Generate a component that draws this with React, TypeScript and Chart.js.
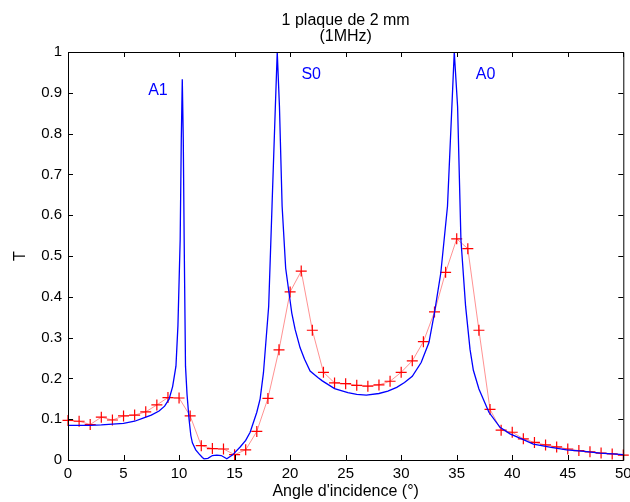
import React, { useEffect, useRef } from "react";
import { Chart, registerables } from "chart.js";

Chart.register(...registerables);

// ---- data ----
const measuredAngles = [
  0, 1, 2, 3, 4, 5, 6, 7, 8, 9, 10, 11, 12, 13, 14, 15, 16, 17, 18, 19, 20, 21, 22, 23, 24, 25,
  26, 27, 28, 29, 30, 31, 32, 33, 34, 35, 36, 37, 38, 39, 40, 41, 42, 43, 44, 45, 46, 47, 48, 49, 50,
];
const measuredT = [
  0.097, 0.095, 0.087, 0.105, 0.098, 0.108, 0.11, 0.118, 0.135, 0.153, 0.152, 0.108, 0.035, 0.028,
  0.027, 0.013, 0.025, 0.07, 0.151, 0.27, 0.412, 0.463, 0.318, 0.215, 0.189, 0.187, 0.183, 0.181,
  0.184, 0.193, 0.215, 0.243, 0.29, 0.363, 0.46, 0.542, 0.518, 0.318, 0.124, 0.073, 0.068, 0.052,
  0.043, 0.037, 0.032, 0.027, 0.023, 0.02, 0.017, 0.015, 0.012,
];

const theoryAngles = [
  0, 1, 2, 3, 4, 5, 6, 6.7, 7.5, 8.2, 8.7, 9.1, 9.42, 9.72, 9.9, 10.1, 10.2, 10.29, 10.38, 10.46,
  10.58, 10.72, 10.9, 11.06, 11.2, 11.5, 11.8, 12.1, 12.25, 12.6, 13.0, 13.4, 13.8, 14.3, 14.8, 15.5,
  16.0, 16.4, 17.0, 17.3, 17.6, 18.07, 18.37, 18.67, 18.84, 19.04, 19.28, 19.6, 19.9, 20.15, 20.45,
  20.9, 21.3, 21.8, 22.5, 22.9, 24.0, 25.2, 26.0, 26.86, 28.0, 28.8, 29.6, 30.3, 31.0, 31.8, 32.5,
  33.0, 33.57, 34.17, 34.5, 34.78, 35.08, 35.38, 35.8, 36.2, 36.5, 37.0, 37.9, 38.9, 39.8, 41.0,
  41.9, 43.5, 44.9, 46.5, 47.9, 49.0, 50.0,
];
const theoryT = [
  0.085, 0.085, 0.085, 0.086, 0.088, 0.09, 0.095, 0.102, 0.11, 0.12, 0.132, 0.149, 0.18, 0.23, 0.33,
  0.54, 0.785, 0.933, 0.785, 0.54, 0.23, 0.16, 0.1, 0.06, 0.042, 0.025, 0.015, 0.006, 0.003, 0.004,
  0.011, 0.012, 0.011, 0.003, 0.012, 0.032, 0.048, 0.068, 0.117, 0.15, 0.214, 0.377, 0.622, 0.866,
  1.0, 0.866, 0.622, 0.47, 0.41, 0.36, 0.32, 0.275, 0.247, 0.218, 0.202, 0.194, 0.175, 0.165, 0.161,
  0.159, 0.163, 0.169, 0.178, 0.19, 0.205, 0.239, 0.288, 0.361, 0.459, 0.622, 0.826, 1.0, 0.866,
  0.54, 0.377, 0.271, 0.22, 0.174, 0.117, 0.08, 0.064, 0.05, 0.039, 0.031, 0.025, 0.021, 0.017,
  0.015, 0.013,
];

const xTickValues = [0, 5, 10, 15, 20, 25, 30, 35, 40, 45, 50];
const xTickLabels = ["0", "5", "10", "15", "20", "25", "30", "35", "40", "45", "50"];
const yTickValues = [0, 0.1, 0.2, 0.3, 0.4, 0.5, 0.6, 0.7, 0.8, 0.9, 1];
const yTickLabels = ["0", "0.1", "0.2", "0.3", "0.4", "0.5", "0.6", "0.7", "0.8", "0.9", "1"];

const modeLabels = ["A1", "S0", "A0"];
const modeAngles = [8.1, 21.9, 37.6];
const modeT = [0.905, 0.945, 0.945];

const titleLines = ["1 plaque de 2 mm", "(1MHz)"];
const xTitle = "Angle d'incidence (°)";
const yTitle = "T";

const FONT = '"Liberation Sans", Arial, Helvetica, sans-serif';

const matlabPlugin = {
  id: "matlabDecor",
  afterDatasetsDraw(chart: any) {
    const { ctx, chartArea } = chart;
    const { left, right, top, bottom } = chartArea;
    const xs = chart.scales.x;
    const ys = chart.scales.y;
    const tl = 5;
    ctx.save();
    ctx.strokeStyle = "#000";
    ctx.lineWidth = 1;
    ctx.beginPath();
    ctx.rect(left + 0.5, top + 0.5, right - left, bottom - top);
    ctx.stroke();
    ctx.beginPath();
    xTickValues.forEach((v) => {
      const px = Math.round(xs.getPixelForValue(v)) + 0.5;
      ctx.moveTo(px, bottom);
      ctx.lineTo(px, bottom - tl);
      ctx.moveTo(px, top);
      ctx.lineTo(px, top + tl);
    });
    yTickValues.forEach((v) => {
      const py = Math.round(ys.getPixelForValue(v)) + 0.5;
      ctx.moveTo(left, py);
      ctx.lineTo(left + tl, py);
      ctx.moveTo(right, py);
      ctx.lineTo(right - tl, py);
    });
    ctx.stroke();
    ctx.restore();
  },
  afterDraw(chart: any) {
    const { ctx, chartArea } = chart;
    const xs = chart.scales.x;
    const ys = chart.scales.y;
    const cx = (chartArea.left + chartArea.right) / 2;
    ctx.save();
    ctx.fillStyle = "#000";
    ctx.font = `16px ${FONT}`;
    ctx.textAlign = "center";
    ctx.textBaseline = "alphabetic";
    ctx.fillText(titleLines[0], cx, 25);
    ctx.fillText(titleLines[1], cx, 41);
    ctx.fillText(xTitle, cx, 496);
    ctx.save();
    ctx.translate(21, (chartArea.top + chartArea.bottom) / 2);
    ctx.rotate(-Math.PI / 2);
    ctx.textBaseline = "middle";
    ctx.fillText(yTitle, 0, 0);
    ctx.restore();
    ctx.fillStyle = "#0000ff";
    ctx.textBaseline = "middle";
    modeLabels.forEach((lab, i) => {
      ctx.fillText(lab, xs.getPixelForValue(modeAngles[i]), ys.getPixelForValue(modeT[i]));
    });
    ctx.restore();
  },
};

export default function App() {
  const ref = useRef<HTMLCanvasElement | null>(null);
  useEffect(() => {
    if (!ref.current) return;
    const theory = theoryAngles.map((x, i) => ({ x, y: theoryT[i] }));
    const measured = measuredAngles.map((x, i) => ({ x, y: measuredT[i] }));
    const chart = new Chart(ref.current, {
      type: "line",
      data: {
        datasets: [
          {
            label: "theory",
            data: theory,
            borderColor: "#0000ff",
            borderWidth: 1.3,
            pointRadius: 0,
            tension: 0,
            fill: false,
          },
          {
            label: "measured",
            data: measured,
            borderColor: "rgba(255,100,100,0.7)",
            borderWidth: 1,
            pointStyle: "cross",
            pointRadius: 5.5,
            pointBorderColor: "#ff0000",
            pointBackgroundColor: "#ff0000",
            pointBorderWidth: 1.2,
            tension: 0,
            fill: false,
            clip: false,
          },
        ],
      },
      options: {
        animation: false,
        responsive: false,
        layout: { padding: { top: 52, right: 3, left: 0, bottom: 0 } },
        plugins: { legend: { display: false }, title: { display: false }, tooltip: { enabled: false } },
        scales: {
          x: {
            type: "linear",
            min: 0,
            max: 50,
            grid: { display: false, drawTicks: false },
            border: { display: false },
            afterBuildTicks: (s: any) => {
              s.ticks = xTickValues.map((v) => ({ value: v }));
            },
            afterFit: (s: any) => {
              s.height = 42;
              s.paddingLeft = 0;
              s.paddingRight = 0;
            },
            ticks: {
              padding: 5,
              color: "#000",
              font: { size: 15, family: FONT },
              maxRotation: 0,
              autoSkip: false,
              callback: (_v: any, i: number) => xTickLabels[i],
            },
          },
          y: {
            type: "linear",
            min: 0,
            max: 1,
            grid: { display: false, drawTicks: false },
            border: { display: false },
            afterBuildTicks: (s: any) => {
              s.ticks = yTickValues.map((v) => ({ value: v }));
            },
            afterFit: (s: any) => {
              s.width = 68;
              s.paddingTop = 0;
              s.paddingBottom = 0;
            },
            ticks: {
              padding: 6,
              color: "#000",
              font: { size: 15, family: FONT },
              autoSkip: false,
              callback: (_v: any, i: number) => yTickLabels[i],
            },
          },
        },
      },
      plugins: [matlabPlugin],
    });
    return () => chart.destroy();
  }, []);
  return (
    <div style={{ position: "absolute", left: 0, top: 0, width: 630, height: 502, background: "#fff" }}>
      <canvas ref={ref} width={630} height={502} style={{ display: "block" }} />
    </div>
  );
}
